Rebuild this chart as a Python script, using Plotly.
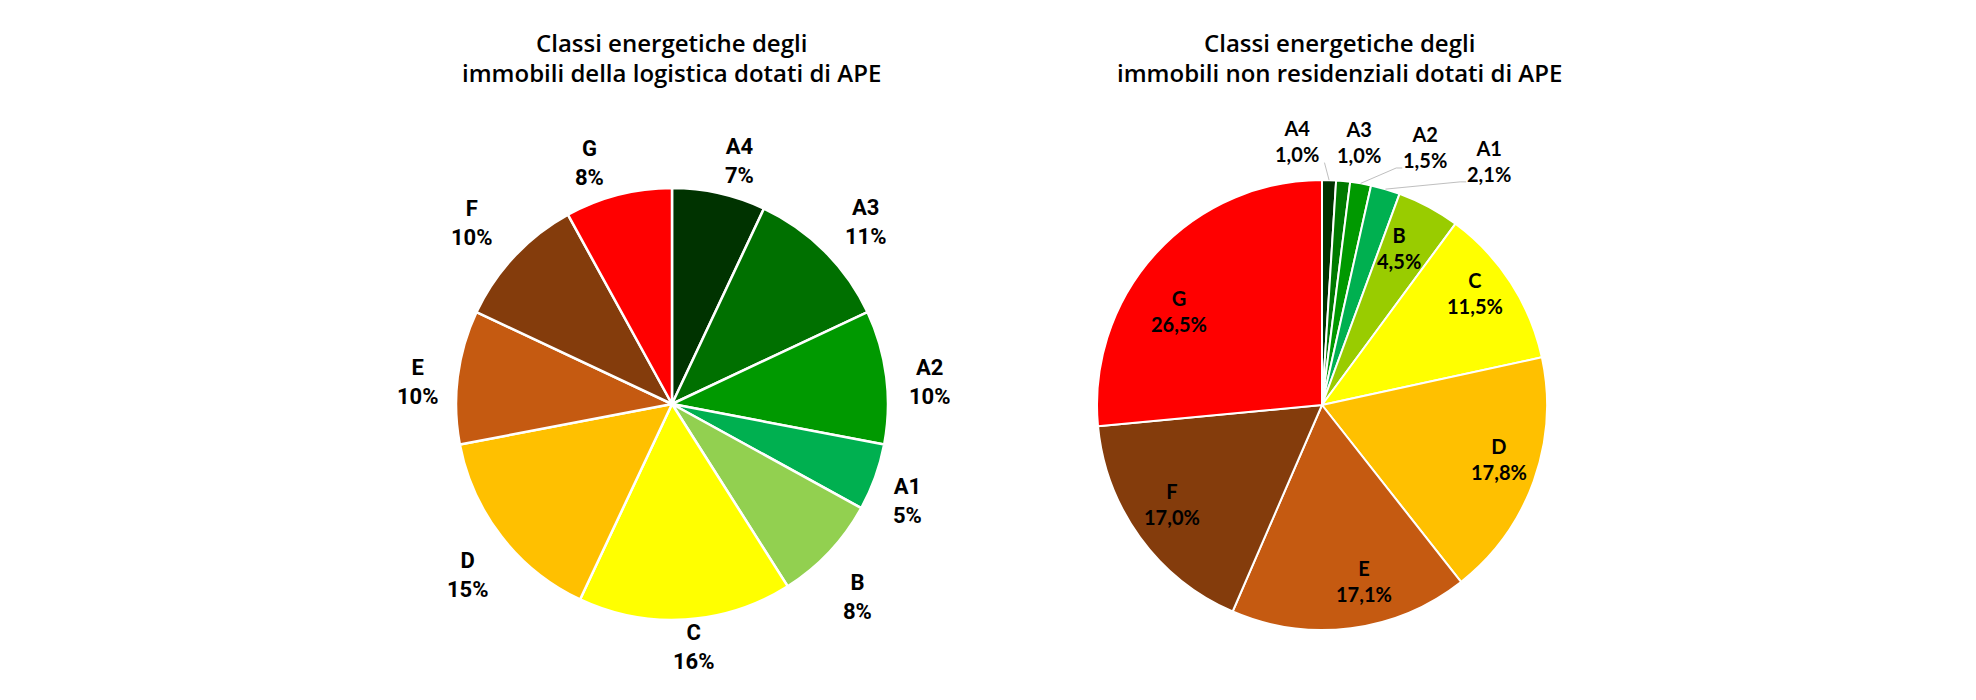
import math
import plotly.graph_objects as go

W, H = 1976, 700

# ---------------- data ----------------
classes = ["A4", "A3", "A2", "A1", "B", "C", "D", "E", "F", "G"]
logistica_pct = [7, 11, 10, 5, 8, 16, 15, 10, 10, 8]
nonres_pct = [1.0, 1.0, 1.5, 2.1, 4.5, 11.5, 17.8, 17.1, 17.0, 26.5]

title_logistica = ["Classi energetiche degli", "immobili della logistica dotati di APE"]
title_nonres = ["Classi energetiche degli", "immobili non residenziali dotati di APE"]

# ---------------- styles ----------------
colors_left = ["#003300", "#007000", "#009900", "#00B050", "#92D050",
               "#FFFF00", "#FFC000", "#C55A11", "#843C0C", "#FF0000"]
colors_right = ["#003300", "#007A00", "#009900", "#00B050", "#99CC00",
                "#FFFF00", "#FFC000", "#C55A11", "#843C0C", "#FF0000"]

L_CX, L_CY, L_R = 672, 404, 216      # pixel geometry of left pie
R_CX, R_CY, R_R = 1322, 405, 225     # pixel geometry of right pie


def px(x):
    return x / W


def py(y):
    return 1 - y / H


def domain(cx, cy, r):
    return dict(x=[px(cx - r), px(cx + r)], y=[py(cy + r), py(cy - r)])


def mid_angles(values):
    tot = sum(values)
    out, cum = [], 0
    for v in values:
        out.append(360 * (cum + v / 2) / tot)
        cum += v
    return out


def polar(cx, cy, dist, ang):
    a = math.radians(ang)
    return cx + dist * math.sin(a), cy - dist * math.cos(a)


def sat(t):
    return math.copysign(min(1.0, abs(t) * 2), t)


fig = go.Figure()
fig.add_trace(go.Pie(
    values=logistica_pct, labels=classes, sort=False, direction="clockwise",
    rotation=0, domain=domain(L_CX, L_CY, L_R), textinfo="none",
    marker=dict(colors=colors_left, line=dict(color="white", width=2.5)),
    hoverinfo="label+percent", showlegend=False))
fig.add_trace(go.Pie(
    values=nonres_pct, labels=classes, sort=False, direction="clockwise",
    rotation=0, domain=domain(R_CX, R_CY, R_R), textinfo="none",
    marker=dict(colors=colors_right, line=dict(color="white", width=2)),
    hoverinfo="label+percent", showlegend=False))

annotations = []
shapes = []

# titles
title_font = dict(family="Open Sans, Inter, sans-serif", size=24, color="#000000", weight=600)
for cx, lines in ((671, title_logistica), (1339, title_nonres)):
    for i, line in enumerate(lines):
        annotations.append(dict(text=line, x=px(cx), y=py(42 + 30 * i), xref="paper", yref="paper",
                                showarrow=False, xanchor="center", yanchor="middle", font=title_font))

# left pie labels (outside end, with small placement nudges in px)
left_font = dict(family="Liberation Sans Narrow, Roboto, sans-serif", size=22, color="#000000", weight="bold")
left_nudge = {"G": (-11, 0), "A4": (5, 0), "A3": (4, 1), "F": (-5, -3), "A2": (5, 12),
              "E": (-1, 12), "A1": (-6, 5), "D": (4, 9), "B": (-9, 15), "C": (4, -5)}
for cls, v, ang in zip(classes, logistica_pct, mid_angles(logistica_pct)):
    a = math.radians(ang)
    x, y = polar(L_CX, L_CY, L_R + 7, ang)
    x += 32 * sat(math.sin(a)) + left_nudge[cls][0]
    y -= 25 * sat(math.cos(a)) - left_nudge[cls][1]
    annotations.append(dict(text=f"{cls}<br>{v}%", x=px(x), y=py(y), xref="paper", yref="paper",
                            showarrow=False, xanchor="center", yanchor="middle", font=left_font))

# right pie labels
right_font = dict(family="Lato, Open Sans, sans-serif", size=20, color="#000000", weight="bold")
# inside labels: (radius factor, angle shift, px nudge)
inside_layout = {"B": (0.77, 0, (-5, -4)), "C": (0.85, 2, (-11, -14)), "D": (0.84, -1, (-2, -7)),
                 "E": (0.83, -4, (5, -7)), "F": (0.79, -3, (-12, -13)), "G": (0.78, -9, (4, 2))}
# outside labels for the thin slices: (label angle, radius factor, leader side)
outside_layout = {"A4": (-5.3, 1.18, "right"), "A3": (8.0, 1.18, None),
                  "A2": (21.8, 1.235, "left"), "A1": (34.4, 1.315, "left")}
for cls, v, ang in zip(classes, nonres_pct, mid_angles(nonres_pct)):
    txt = f"{cls}<br>{v:.1f}%".replace(".", ",")
    if cls in inside_layout:
        f, sh, (nx, ny) = inside_layout[cls]
        x, y = polar(R_CX, R_CY, R_R * f, ang + sh)
        x += nx
        y += ny
    else:
        la, lf, side = outside_layout[cls]
        x, y = polar(R_CX, R_CY, R_R * lf, la)
        if side is not None:
            ex, ey = polar(R_CX, R_CY, R_R, ang)
            if side == "right":
                path = f"M {px(ex)},{py(ey)} L {px(x + 27)},{py(y + 22)}"
            else:
                path = (f"M {px(ex)},{py(ey)} L {px(x - 29)},{py(y + 21)} "
                        f"L {px(x - 23)},{py(y + 21)}")
            shapes.append(dict(type="path", path=path, xref="paper", yref="paper",
                               line=dict(color="#BFBFBF", width=1)))
    annotations.append(dict(text=txt, x=px(x), y=py(y), xref="paper", yref="paper",
                            showarrow=False, xanchor="center", yanchor="middle", font=right_font))

fig.update_layout(
    width=W, height=H, margin=dict(l=0, r=0, t=0, b=0),
    paper_bgcolor="white", plot_bgcolor="white",
    annotations=annotations, shapes=shapes, showlegend=False,
)

fig.write_html("out.html", config={"displayModeBar": False},
               post_script="document.body.style.margin='0px';")
